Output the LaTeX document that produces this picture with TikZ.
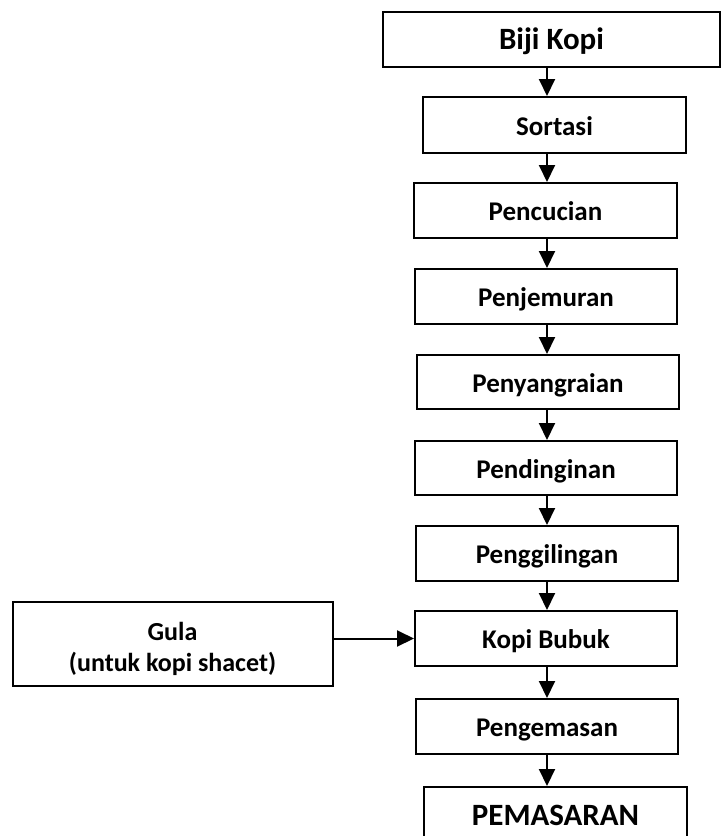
\documentclass[tikz,border=0pt]{standalone}
\usepackage{fontspec}
\setmainfont{Carlito}
\usetikzlibrary{arrows.meta}
\tikzset{
  box/.style={draw, line width=2pt, inner sep=0pt, align=center, text height=20pt, text depth=0pt,
    minimum width=262pt, minimum height=55pt, font=\bfseries\fontsize{27}{31}\selectfont},
  kstep/.style={box},
  kend/.style={box, minimum width=263pt, font=\bfseries\fontsize{31}{36}\selectfont},
  kinput/.style={box, minimum width=320pt, minimum height=84pt, font=\bfseries\fontsize{26}{31}\selectfont,
    text height=58pt, text depth=4pt},
  flow/.style={-{Triangle[length=17pt, width=16pt]}, line width=2pt},
}
\begin{document}
\begin{tikzpicture}[x=1pt, y=-1pt]
    \useasboundingbox (0,0) rectangle (721,836);
    \coordinate (ax) at (547,0);
    \node[kend, minimum width=337pt] (biji) at (551.5,39.5) {Biji Kopi};
    \node[kstep, minimum width=263pt, minimum height=56pt] (sortasi) at (554.5,125) {Sortasi};
    \node[kstep, minimum width=263pt] (pencucian) at (545.5,210.5) {Pencucian};
    \node[kstep] (penjemuran) at (546,296.5) {Penjemuran};
    \node[kstep, minimum height=54pt] (penyangraian) at (548,382) {Penyangraian};
    \node[kstep, minimum height=54pt] (pendinginan) at (546,468) {Pendinginan};
    \node[kstep] (penggilingan) at (547,553.5) {Penggilingan};
    \node[kstep] (kopibubuk) at (546,638.5) {Kopi Bubuk};
    \node[kstep] (pengemasan) at (547,726.5) {Pengemasan};
    \node[kend, minimum height=56pt] (pemasaran) at (555.5,815) {PEMASARAN};
    \node[kinput] (gula) at (172.5,644) {Gula\\(untuk kopi shacet)};
    \draw[flow] (biji.south -| ax) -- (sortasi.north -| ax);
    \draw[flow] (sortasi.south -| ax) -- (pencucian.north -| ax);
    \draw[flow] (pencucian.south -| ax) -- (penjemuran.north -| ax);
    \draw[flow] (penjemuran.south -| ax) -- (penyangraian.north -| ax);
    \draw[flow] (penyangraian.south -| ax) -- (pendinginan.north -| ax);
    \draw[flow] (pendinginan.south -| ax) -- (penggilingan.north -| ax);
    \draw[flow] (penggilingan.south -| ax) -- (kopibubuk.north -| ax);
    \draw[flow] (kopibubuk.south -| ax) -- (pengemasan.north -| ax);
    \draw[flow] (pengemasan.south -| ax) -- (pemasaran.north -| ax);
    \draw[flow] (gula.east |- kopibubuk.west) -- (kopibubuk.west);
\end{tikzpicture}
\end{document}
